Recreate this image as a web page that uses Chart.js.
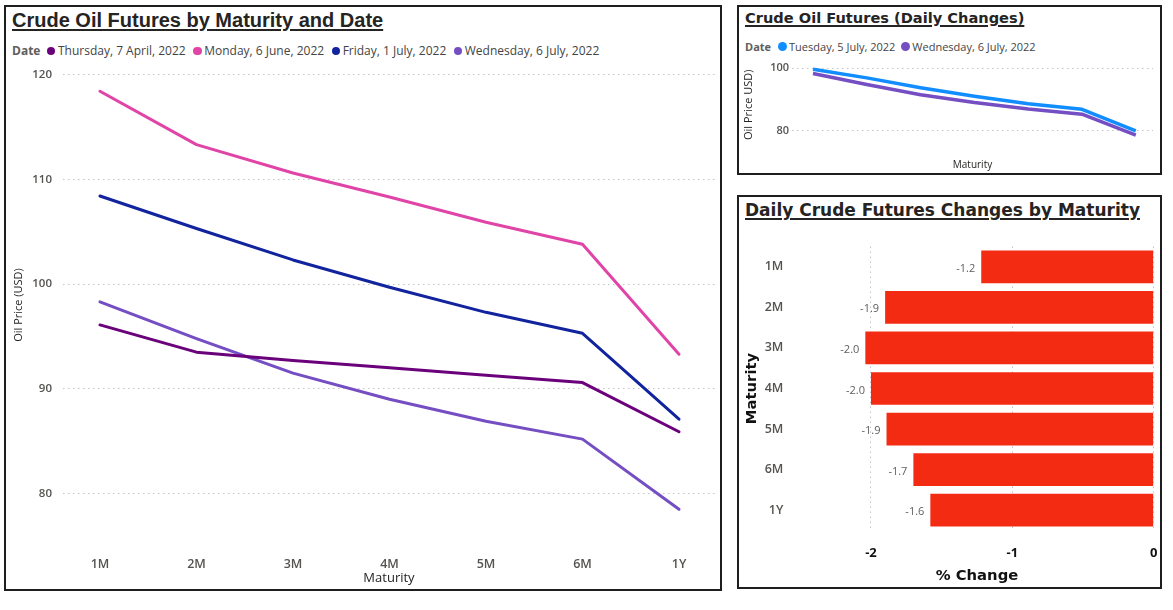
<!DOCTYPE html>
<html><head><meta charset="utf-8">
<script src="https://cdn.jsdelivr.net/npm/chart.js@4.4.0/dist/chart.umd.min.js"></script>
<style>
html,body{margin:0;padding:0;background:#fff;}
body{width:1173px;height:610px;position:relative;overflow:hidden;font-family:"Open Sans",sans-serif;}
.panel{position:absolute;box-sizing:border-box;border:2px solid #1e1e1e;}
.title{position:absolute;white-space:nowrap;text-decoration:underline;text-decoration-thickness:2px;text-underline-offset:2px;color:#252423;line-height:1;font-weight:bold;}
.legend{position:absolute;white-space:nowrap;display:flex;align-items:center;line-height:1;color:#444;}
.legend .lt{font-weight:bold;color:#605E5C;}
.legend .dot{display:inline-block;border-radius:50%;flex:none;}
canvas{position:absolute;}
</style></head>
<body>
<div class="panel" style="left:4px;top:5px;width:718px;height:586px"></div>
<div class="panel" style="left:737px;top:5px;width:425px;height:170px"></div>
<div class="panel" style="left:737px;top:195px;width:425px;height:394px"></div>

<div class="title" style="left:12px;top:10px;font-family:'Liberation Sans',Arial,sans-serif;font-size:20px;">Crude Oil Futures by Maturity and Date</div>
<div class="legend" id="leg1" style="left:12px;top:45px;font-size:12px;"></div>
<canvas id="c1" width="712" height="530" style="left:7px;top:58px"></canvas>

<div class="title" style="left:745px;top:11px;font-family:'DejaVu Sans',sans-serif;font-size:14.6px;">Crude Oil Futures (Daily Changes)</div>
<div class="legend" id="leg2" style="left:745px;top:40.5px;font-size:11px;"></div>
<canvas id="c2" width="419" height="116" style="left:739px;top:56px"></canvas>

<div class="title" style="left:745px;top:202px;font-family:'DejaVu Sans',sans-serif;font-size:17px;">Daily Crude Futures Changes by Maturity</div>
<canvas id="c3" width="419" height="356" style="left:739px;top:230px"></canvas>

<script>
// ---- data ----
const maturities = ['1M', '2M', '3M', '4M', '5M', '6M', '1Y'];
const seriesNames = ['Thursday, 7 April, 2022', 'Monday, 6 June, 2022', 'Friday, 1 July, 2022', 'Wednesday, 6 July, 2022'];
const apr7 = [96.1, 93.5, 92.7, 92.0, 91.3, 90.6, 85.9];
const jun6 = [118.4, 113.3, 110.6, 108.3, 105.9, 103.8, 93.3];
const jul1 = [108.4, 105.3, 102.3, 99.7, 97.3, 95.3, 87.1];
const jul6 = [98.3, 94.8, 91.5, 89.0, 86.9, 85.2, 78.5];
const dailyNames = ['Tuesday, 5 July, 2022', 'Wednesday, 6 July, 2022'];
const jul5 = [99.7, 96.9, 93.7, 91.0, 88.6, 86.8, 79.8];
const pctChange = [-1.22, -1.90, -2.04, -2.00, -1.89, -1.70, -1.58];
const priceTicks = [80, 90, 100, 110, 120];
const dailyTicks = [80, 100];
const pctTicks = [-2, -1, 0];

// ---- styles ----
const C_APR = '#6B007B', C_JUN = '#E044A7', C_JUL1 = '#12239E', C_JUL6 = '#744EC2', C_JUL5 = '#118DFF', C_BAR = '#F42B13';
const FAM = '"Open Sans", sans-serif';
const GRID = '#c4c4c4';
const TICK = '#555350';

function buildLegend(el, names, colors, dot, gapAfterTitle, gapDotText, gapItem) {
  const t = document.createElement('span'); t.className = 'lt'; t.textContent = 'Date';
  t.style.marginRight = gapAfterTitle + 'px'; el.appendChild(t);
  names.forEach((n, i) => {
    const d = document.createElement('span'); d.className = 'dot';
    d.style.width = dot + 'px'; d.style.height = dot + 'px'; d.style.background = colors[i];
    d.style.marginRight = gapDotText + 'px'; el.appendChild(d);
    const s = document.createElement('span'); s.textContent = n;
    if (i < names.length - 1) s.style.marginRight = gapItem + 'px';
    el.appendChild(s);
  });
}
buildLegend(document.getElementById('leg1'), seriesNames, [C_APR, C_JUN, C_JUL1, C_JUL6], 8.5, 6.5, 2.5, 7.5);
buildLegend(document.getElementById('leg2'), dailyNames, [C_JUL5, C_JUL6], 9, 6.5, 2.5, 5.5);

const pts = arr => arr.map((v, i) => ({x: i, y: v}));
const fixedTicks = list => (s => { s.ticks = list.map(v => ({value: v})); });
const fitV = w => (s => { s.width = w; s.paddingTop = 0; s.paddingBottom = 0; });
const fitH = h => (s => { s.height = h; s.paddingLeft = 0; s.paddingRight = 0; });

function draw() {
  // ---- main line chart ----
  new Chart(document.getElementById('c1'), {
    type: 'line',
    data: {datasets: [
      {label: seriesNames[0], data: pts(apr7), borderColor: C_APR},
      {label: seriesNames[1], data: pts(jun6), borderColor: C_JUN},
      {label: seriesNames[2], data: pts(jul1), borderColor: C_JUL1},
      {label: seriesNames[3], data: pts(jul6), borderColor: C_JUL6}
    ]},
    options: {
      responsive: false, animation: false,
      layout: {padding: {top: 6, right: 4, left: 0, bottom: 0}},
      plugins: {legend: {display: false}, tooltip: {enabled: false}},
      elements: {point: {radius: 0}, line: {borderWidth: 3, tension: 0, borderJoinStyle: 'round', borderCapStyle: 'round'}},
      scales: {
        x: {type: 'linear', min: -0.383, max: 6.373,
          afterBuildTicks: fixedTicks(maturities.map((_, i) => i)),
          grid: {display: false}, border: {display: false},
          ticks: {callback: v => maturities[v], padding: 3, font: {family: FAM, size: 12.5, weight: '600'}, color: TICK, maxRotation: 0, autoSkip: false},
          title: {display: true, text: 'Maturity', font: {family: FAM, size: 13}, color: '#252423', padding: {top: 0, bottom: 2}},
          afterFit: fitH(42)},
        y: {min: 75, max: 121,
          afterBuildTicks: fixedTicks(priceTicks),
          grid: {color: GRID, lineWidth: 1, drawTicks: false}, border: {display: false, dash: [1.5, 3.5]},
          ticks: {padding: 11, font: {family: FAM, size: 11.5, weight: '600'}, color: TICK},
          title: {display: true, text: 'Oil Price (USD)', font: {family: FAM, size: 11}, color: '#252423', padding: {top: 5, bottom: 0}},
          afterFit: fitV(56)}
      }
    }
  });

  // ---- daily changes line chart ----
  new Chart(document.getElementById('c2'), {
    type: 'line',
    data: {datasets: [
      {label: dailyNames[0], data: pts(jul5), borderColor: C_JUL5},
      {label: dailyNames[1], data: pts(jul6), borderColor: C_JUL6}
    ]},
    options: {
      responsive: false, animation: false,
      layout: {padding: {top: 4.5, right: 5, left: 0, bottom: 0}},
      plugins: {legend: {display: false}, tooltip: {enabled: false}},
      elements: {point: {radius: 0}, line: {borderWidth: 3.5, tension: 0, borderJoinStyle: 'round'}},
      scales: {
        x: {type: 'linear', min: -0.39, max: 6.32,
          afterBuildTicks: fixedTicks(maturities.map((_, i) => i)),
          grid: {display: false}, border: {display: false},
          ticks: {display: false},
          title: {display: true, text: 'Maturity', font: {family: FAM, size: 10}, color: '#252423', padding: {top: 0, bottom: 1}},
          afterFit: fitH(23)},
        y: {min: 74, max: 102.5,
          afterBuildTicks: fixedTicks(dailyTicks),
          grid: {color: GRID, lineWidth: 1, drawTicks: false}, border: {display: false, dash: [1.5, 3.5]},
          ticks: {padding: 3, font: {family: FAM, size: 11, weight: '600'}, color: TICK},
          title: {display: true, text: 'Oil Price USD)', font: {family: FAM, size: 11}, color: '#252423', padding: {top: 3.4, bottom: 0}},
          afterFit: fitV(53)}
      }
    }
  });

  // ---- bar chart ----
  const barLabels = {
    id: 'barLabels',
    afterDatasetsDraw(chart) {
      const {ctx} = chart;
      const meta = chart.getDatasetMeta(0);
      ctx.save();
      ctx.font = '11px ' + FAM; ctx.fillStyle = '#605E5C';
      ctx.textAlign = 'right'; ctx.textBaseline = 'middle';
      meta.data.forEach((bar, i) => {
        ctx.fillText(chart.data.datasets[0].data[i].toFixed(1), bar.x - 6, bar.y + 2);
      });
      ctx.restore();
    }
  };
  new Chart(document.getElementById('c3'), {
    type: 'bar',
    data: {labels: maturities, datasets: [{data: pctChange, backgroundColor: C_BAR, borderWidth: 0, barPercentage: 0.806, categoryPercentage: 1}]},
    options: {
      indexAxis: 'y', responsive: false, animation: false,
      layout: {padding: {top: 16.5, right: 4.3, left: 0, bottom: 0}},
      plugins: {legend: {display: false}, tooltip: {enabled: false}},
      scales: {
        x: {min: -2.5, max: 0,
          afterBuildTicks: fixedTicks(pctTicks),
          grid: {color: GRID, lineWidth: 1, drawTicks: false}, border: {display: false, dash: [1.5, 3.5]},
          ticks: {padding: 15, font: {family: FAM, size: 13, weight: 'bold'}, color: '#111'},
          title: {display: true, text: '% Change', font: {family: '"DejaVu Sans", sans-serif', size: 14.8, weight: 'bold'}, color: '#111', padding: {top: 0, bottom: 1}},
          afterFit: fitH(55.5)},
        y: {grid: {display: false}, border: {display: false},
          ticks: {padding: 9, font: {family: FAM, size: 12.5, weight: '600'}, color: TICK},
          title: {display: true, text: 'Maturity', font: {family: '"DejaVu Sans", sans-serif', size: 14.8, weight: 'bold'}, color: '#111', padding: {top: 4, bottom: 0}},
          afterFit: fitV(61.3)}
      }
    },
    plugins: [barLabels]
  });
}
if (document.fonts && document.fonts.ready) document.fonts.ready.then(draw); else draw();
</script>
</body></html>
